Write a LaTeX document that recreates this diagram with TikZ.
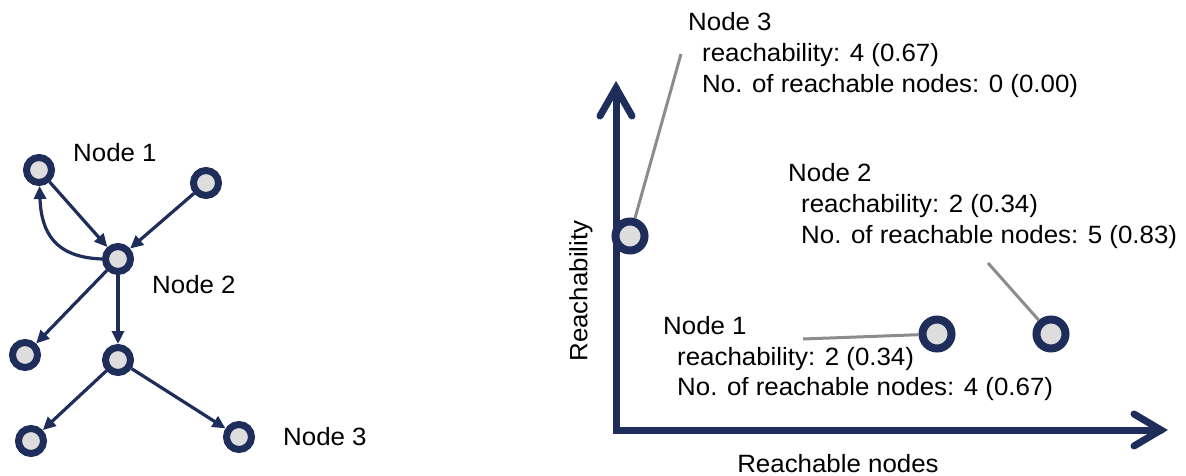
\documentclass[tikz,border=0pt]{standalone}
\usepackage{fontspec}
\setmainfont{Liberation Sans}[FakeStretch=1.035]
\usetikzlibrary{arrows.meta}
\definecolor{navy}{RGB}{30,45,90}
\definecolor{ringfill}{RGB}{221,221,221}
\definecolor{leader}{RGB}{140,140,140}
\tikzset{
  gnode/.style={circle,draw=navy,fill=ringfill,line width=7pt,minimum size=25pt,inner sep=0pt},
  pnode/.style={circle,draw=navy,fill=ringfill,line width=8pt,minimum size=29pt,inner sep=0pt},
  edge/.style={draw=navy,line width=3.2pt,-{Triangle[length=13pt,width=12pt]}},
  lead/.style={draw=leader,line width=3pt},
  axis/.style={draw=navy,line width=7pt,line join=miter,line cap=round},
  lbl/.style={anchor=base west,inner sep=0pt,font=\fontsize{25}{30}\selectfont},
}
\begin{document}
\begin{tikzpicture}[x=1pt,y=-1pt]
\path[use as bounding box] (0,0) rectangle (1186,476);
% left graph
\node[gnode] (n1) at (39,170) {};
\node[gnode] (tr) at (206,183) {};
\node[gnode] (n2) at (118,259) {};
\node[gnode] (lm) at (25,355) {};
\node[gnode] (ml) at (118,360) {};
\node[gnode] (bl) at (31,441) {};
\node[gnode] (n3) at (239,437) {};
\draw[edge] (n1) -- (n2);
\draw[edge] (n2.west) to[out=178,in=-88,looseness=1.25] (n1);
\draw[edge] (tr) -- (n2);
\draw[edge] (n2) -- (lm);
\draw[edge] (n2) -- (ml);
\draw[edge] (ml) -- (bl);
\draw[edge] (ml) -- (n3);
\node[lbl] (t1) at (73,161) {Node 1};
\node[lbl] (t2) at (152,293) {Node 2};
\node[lbl] (t3) at (283,445) {Node 3};
% right plot axes
\coordinate (o) at (616,430);
\coordinate (ytip) at (616,88);
\coordinate (xtip) at (1161,430);
\draw[axis] (ytip) -- (o) -- (xtip);
\draw[axis] (600,116) -- (ytip) -- (632,116);
\draw[axis] (1134,414) -- (xtip) -- (1134,446);
\node[rotate=90,inner sep=0pt,font=\fontsize{25}{30}\selectfont] (ylab) at (581,291) {Reachability};
\node[anchor=base,inner sep=0pt,font=\fontsize{25}{30}\selectfont] (xlab) at (838,472) {Reachable nodes};
% plotted nodes
\node[pnode] (p3) at (630,236) {};
\node[pnode] (p1) at (937,334) {};
\node[pnode] (p2) at (1051,334) {};
\coordinate (c3) at (681,54);
\coordinate (c2) at (988,263);
\coordinate (c1) at (803,339);
\draw[lead] (c3) -- (p3);
\draw[lead] (c2) -- (p2);
\draw[lead] (c1) -- (p1);
% labels
\node[lbl] (a3) at (688,31) {Node 3};
\node[lbl] (b3) at (702,62) {reachability: 4 (0.67)};
\node[lbl] (d3) at (702,93) {No. of reachable nodes: 0 (0.00)};
\node[lbl] (a2) at (788,181) {Node 2};
\node[lbl] (b2) at (801,212) {reachability: 2 (0.34)};
\node[lbl] (d2) at (801,243) {No. of reachable nodes: 5 (0.83)};
\node[lbl] (a1) at (663,334) {Node 1};
\node[lbl] (b1) at (677,365) {reachability: 2 (0.34)};
\node[lbl] (d1) at (677,395) {No. of reachable nodes: 4 (0.67)};
\end{tikzpicture}
\end{document}
